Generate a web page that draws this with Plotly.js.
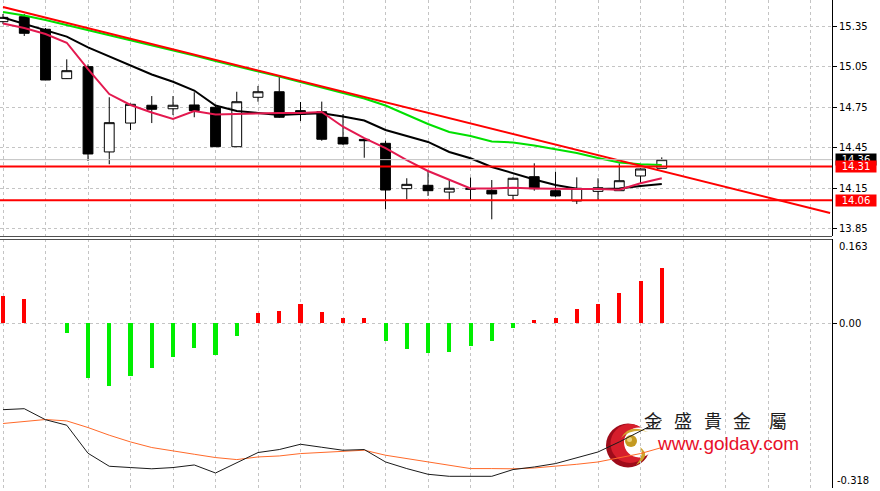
<!DOCTYPE html>
<html><head><meta charset="utf-8">
<script src="https://cdn.plot.ly/plotly-3.0.1.min.js"></script>
<style>html,body{margin:0;padding:0;background:#fff;overflow:hidden}#chart{width:880px;height:491px}</style>
</head><body><div id="chart"></div>
<script>
// ---------- data ----------
const candleIndex = [0,1,2,3,4,5,6,7,8,9,10,11,12,13,14,15,16,17,18,19,20,21,22,23,24,25,26,27,28,29,30,31];
const openP  = [15.382,15.419,15.326,14.960,15.049,14.417,14.631,14.763,14.737,14.765,14.748,14.456,14.822,14.863,14.723,14.715,14.525,14.510,14.481,14.145,14.170,14.120,14.140,14.133,14.096,14.234,14.130,14.054,14.125,14.130,14.239,14.296];
const highP  = [15.439,15.439,15.335,15.103,15.066,14.822,14.775,14.831,14.831,14.859,14.760,14.863,14.906,14.972,14.787,14.790,14.698,14.515,14.500,14.222,14.278,14.214,14.228,14.209,14.230,14.333,14.271,14.229,14.222,14.333,14.295,14.377];
const lowP   = [15.365,15.276,14.950,14.958,14.350,14.326,14.580,14.631,14.690,14.674,14.456,14.456,14.789,14.669,14.646,14.500,14.469,14.374,13.992,14.066,14.091,14.061,14.060,13.918,14.061,14.130,14.081,14.031,14.061,14.128,14.180,14.296];
const closeP = [15.414,15.296,14.950,15.019,14.402,14.634,14.770,14.733,14.763,14.723,14.456,14.789,14.863,14.674,14.696,14.511,14.476,14.500,14.135,14.177,14.130,14.148,14.145,14.106,14.222,14.145,14.091,14.148,14.152,14.204,14.291,14.360];

const maFast = [15.369,15.335,15.291,15.226,15.031,14.846,14.765,14.709,14.661,14.720,14.694,14.698,14.706,14.706,14.706,14.713,14.604,14.520,14.446,14.357,14.276,14.209,14.147,14.147,14.152,14.147,14.143,14.143,14.143,14.137,14.185,14.222];
const maMid  = [15.413,15.365,15.317,15.271,15.191,15.124,15.057,14.991,14.937,14.872,14.761,14.720,14.706,14.691,14.698,14.703,14.680,14.650,14.580,14.535,14.491,14.417,14.370,14.306,14.257,14.213,14.172,14.145,14.143,14.146,14.165,14.180];
const maSlow = [15.454,15.428,15.394,15.357,15.320,15.281,15.242,15.205,15.168,15.131,15.090,15.053,15.013,14.976,14.935,14.894,14.854,14.813,14.761,14.691,14.624,14.565,14.535,14.494,14.487,14.465,14.439,14.409,14.372,14.339,14.326,14.320];

const trendX = [0, 38.92];
const trendY = [15.491, 13.965];

const levels = [14.31, 14.06];
const levelLabels = ['14.31', '14.06'];
const bidPrice = 14.36;
const bidLabel = '14.36';

const priceTicks = [13.85, 14.15, 14.45, 14.75, 15.05, 15.35];
const priceTickLabels = ['13.85', '14.15', '14.45', '14.75', '15.05', '15.35'];

const histValues = [0.0534,0.0470,0.0000,-0.0193,-0.1050,-0.1207,-0.1010,-0.0859,-0.0646,-0.0472,-0.0619,-0.0240,0.0193,0.0238,0.0367,0.0219,0.0103,0.0103,-0.0342,-0.0497,-0.0580,-0.0549,-0.0439,-0.0342,-0.0085,0.0064,0.0108,0.0277,0.0373,0.0580,0.0818,0.1064];
const macdLine   = [-0.1667,-0.1648,-0.1861,-0.1967,-0.2509,-0.2760,-0.2785,-0.2809,-0.2785,-0.2735,-0.2890,-0.2696,-0.2495,-0.2437,-0.2335,-0.2393,-0.2451,-0.2437,-0.2677,-0.2805,-0.2915,-0.2954,-0.2954,-0.2954,-0.2824,-0.2774,-0.2708,-0.2592,-0.2484,-0.2290,-0.2072,-0.1870];
const signalLine = [-0.1934,-0.1890,-0.1857,-0.1884,-0.2012,-0.2160,-0.2290,-0.2398,-0.2470,-0.2528,-0.2592,-0.2631,-0.2580,-0.2561,-0.2515,-0.2495,-0.2483,-0.2450,-0.2547,-0.2611,-0.2677,-0.2741,-0.2805,-0.2805,-0.2809,-0.2793,-0.2760,-0.2722,-0.2677,-0.2596,-0.2515,-0.2398];
const macdMax = 0.163, macdMin = -0.318;
const macdMaxLabel = '0.163', macdMinLabel = '-0.318', macdZeroLabel = '0.00';

const logoChars = ['金', '盛', '貴', '金', '屬'];
const logoUrl = 'www.golday.com';

// ---------- layout geometry ----------
const W = 880, H = 491, PLOT_W = 832;
const MAIN_TOP = 0, MAIN_BOT = 236, MACD_TOP = 239, MACD_BOT = 488;
const pY = py => 1 - py / H;
const lx = px => px / PLOT_W;
const AX_FONT = {family: 'DejaVu Sans, Verdana, sans-serif', size: 10, color: '#000'};

const traces = [
  {type: 'candlestick', x: candleIndex, open: openP, high: highP, low: lowP, close: closeP,
   xaxis: 'x', yaxis: 'y', whiskerwidth: 0, hoverinfo: 'skip',
   increasing: {line: {color: '#000', width: 1}, fillcolor: '#ffffff'},
   decreasing: {line: {color: '#000', width: 1}, fillcolor: '#000000'}},
  {type: 'scatter', mode: 'lines', x: candleIndex, y: maSlow, xaxis: 'x', yaxis: 'y', line: {color: '#00E000', width: 2}, hoverinfo: 'skip'},
  {type: 'scatter', mode: 'lines', x: candleIndex, y: maMid, xaxis: 'x', yaxis: 'y', line: {color: '#000000', width: 2}, hoverinfo: 'skip'},
  {type: 'scatter', mode: 'lines', x: candleIndex, y: maFast, xaxis: 'x', yaxis: 'y', line: {color: '#E3194F', width: 2}, hoverinfo: 'skip'},
  {type: 'scatter', mode: 'lines', x: trendX, y: trendY, xaxis: 'x', yaxis: 'y', line: {color: '#FF0000', width: 2}, hoverinfo: 'skip'},
  {type: 'bar', x: candleIndex, y: histValues, xaxis: 'x2', yaxis: 'y2', width: 0.19,
   marker: {color: histValues.map(v => v >= 0 ? '#FF0000' : '#00EE00'), line: {width: 0}}, hoverinfo: 'skip'},
  {type: 'scatter', mode: 'lines', x: candleIndex, y: signalLine, xaxis: 'x2', yaxis: 'y2', line: {color: '#FF6A2A', width: 1}, hoverinfo: 'skip'},
  {type: 'scatter', mode: 'lines', x: candleIndex, y: macdLine, xaxis: 'x2', yaxis: 'y2', line: {color: '#1A1A1A', width: 1}, hoverinfo: 'skip'}
];

const gridStyle = {showgrid: true, gridcolor: '#C4C4C4', griddash: '3px,3px', gridwidth: 1};

// logo helper: paper coords from pixel coords (drawn under traces)
function circ(cx, cy, r, color) {
  return {type: 'circle', xref: 'paper', yref: 'paper', layer: 'below',
          x0: lx(cx - r), x1: lx(cx + r), y0: pY(cy + r), y1: pY(cy - r),
          fillcolor: color, line: {width: 0}};
}
function pt(px, py) { return lx(px).toFixed(5) + ',' + pY(py).toFixed(5); }

const shapes = [
  // logo (watermark)
  circ(628, 445.5, 22, '#9E0B1A'),
  circ(630, 443.5, 19.5, '#D61E2C'),
  circ(639, 442.5, 15, '#FFFFFF'),
  circ(631, 441, 6, '#C49A22'),
  circ(629.5, 439.5, 2.5, '#EBD37A'),
  {type: 'path', xref: 'paper', yref: 'paper', layer: 'below', fillcolor: '#CFA52C', line: {width: 0},
   path: 'M' + pt(621, 438) + ' Q' + pt(629, 423) + ' ' + pt(648, 432) + ' Q' + pt(632, 428) + ' ' + pt(621, 438) + ' Z'},
  {type: 'path', xref: 'paper', yref: 'paper', layer: 'below', fillcolor: '#CFA52C', line: {width: 0},
   path: 'M' + pt(640, 447) + ' Q' + pt(652, 456) + ' ' + pt(636, 465) + ' Q' + pt(645, 455) + ' ' + pt(640, 447) + ' Z'},
  // bid line
  {type: 'line', xref: 'paper', yref: 'y', x0: 0, x1: 1, y0: bidPrice, y1: bidPrice, line: {color: '#C0C0C0', width: 1}, layer: 'above'},
  // panel separator
  {type: 'line', xref: 'paper', yref: 'paper', x0: 0, x1: 1, y0: pY(236.5), y1: pY(236.5), line: {color: '#505050', width: 1}, layer: 'above'},
  {type: 'line', xref: 'paper', yref: 'paper', x0: 0, x1: 1, y0: pY(239.5), y1: pY(239.5), line: {color: '#505050', width: 1}, layer: 'above'}
];
levels.forEach(v => shapes.push({type: 'line', xref: 'paper', yref: 'y', x0: 0, x1: 1, y0: v, y1: v,
  line: {color: '#FF0000', width: 2}, layer: 'above'}));

const annotations = [];
const lblFont = {family: 'DejaVu Sans, Verdana, sans-serif', size: 10, color: '#FFFFFF'};
annotations.push({xref: 'paper', x: 1, xanchor: 'left', xshift: 3, yref: 'y', y: bidPrice, text: bidLabel,
  showarrow: false, bgcolor: '#000000', font: lblFont, width: 40, height: 11, borderpad: 0});
levels.forEach((v, i) => annotations.push({xref: 'paper', x: 1, xanchor: 'left', xshift: 3, yref: 'y', y: v,
  text: levelLabels[i], showarrow: false, bgcolor: '#FF0000', font: lblFont, width: 40, height: 11, borderpad: 0}));
annotations.push({xref: 'paper', x: 1, xanchor: 'left', xshift: 5, yref: 'paper', y: pY(MACD_TOP), yanchor: 'top',
  text: macdMaxLabel, showarrow: false, font: AX_FONT});
annotations.push({xref: 'paper', x: 1, xanchor: 'left', xshift: 3, yref: 'paper', y: pY(MACD_BOT), yanchor: 'bottom',
  text: macdMinLabel, showarrow: false, font: AX_FONT});
const charX = [664, 694, 724, 753, 789];
logoChars.forEach((c, i) => annotations.push({xref: 'paper', x: lx(charX[i]), yref: 'paper', y: pY(435),
  text: c, showarrow: false, font: {family: 'Noto Sans CJK TC, sans-serif', size: 18, color: '#1E1E1E'}}));
annotations.push({xref: 'paper', x: lx(655), xanchor: 'left', yref: 'paper', y: pY(456), text: logoUrl,
  showarrow: false, font: {family: 'Liberation Sans, Arial, sans-serif', size: 19, color: '#E8102A'}});

const xCommon = Object.assign({range: [-0.141, 39.01], domain: [0, 1], showticklabels: false, ticks: '',
  dtick: 2, tick0: 0, zeroline: false, showline: false, fixedrange: true}, gridStyle);

const layout = {
  width: W, height: H, margin: {l: 0, r: W - PLOT_W, t: 0, b: 0},
  paper_bgcolor: '#FFFFFF', plot_bgcolor: 'rgba(0,0,0,0)', showlegend: false,
  boxgap: 0.34, bargap: 0,
  xaxis: Object.assign({}, xCommon, {anchor: 'y', rangeslider: {visible: false}}),
  xaxis2: Object.assign({}, xCommon, {anchor: 'y2', matches: 'x'}),
  yaxis: Object.assign({domain: [pY(MAIN_BOT), pY(MAIN_TOP)], range: [13.7944, 15.5426], side: 'right', anchor: 'x',
    showline: true, linecolor: '#000', linewidth: 1, ticks: 'outside', ticklen: 4, tickcolor: '#000',
    tickvals: priceTicks, ticktext: priceTickLabels, tickfont: AX_FONT, zeroline: false, fixedrange: true}, gridStyle),
  yaxis2: Object.assign({domain: [pY(MACD_BOT), pY(MACD_TOP)], range: [macdMin, macdMax], side: 'right', anchor: 'x2',
    showline: true, linecolor: '#000', linewidth: 1, ticks: 'outside', ticklen: 4, tickcolor: '#000',
    tickvals: [0], ticktext: [macdZeroLabel], tickfont: AX_FONT, zeroline: false, fixedrange: true}, gridStyle),
  shapes: shapes, annotations: annotations
};

Plotly.newPlot('chart', traces, layout, {staticPlot: true, displayModeBar: false});
</script></body></html>
